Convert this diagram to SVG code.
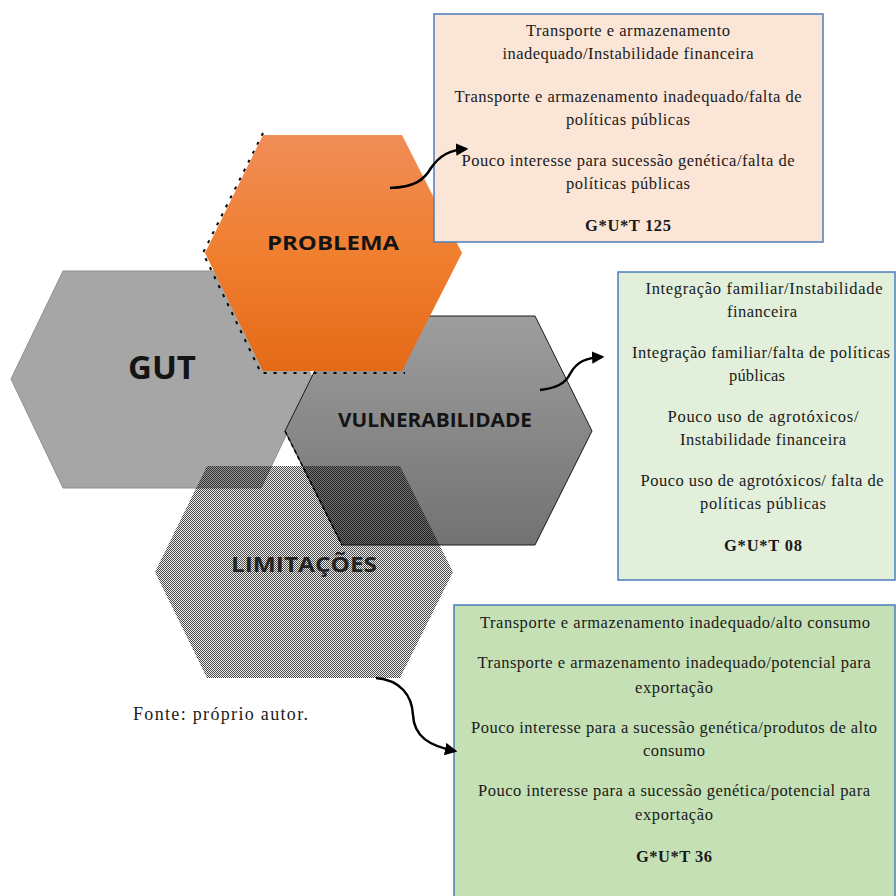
<svg xmlns="http://www.w3.org/2000/svg" width="896" height="896" viewBox="0 0 896 896">
<defs>
<linearGradient id="gOrange" x1="0" y1="0" x2="0" y2="1">
<stop offset="0" stop-color="#f08d58"/>
<stop offset="0.5" stop-color="#f07f30"/>
<stop offset="1" stop-color="#e46a17"/>
</linearGradient>
<linearGradient id="gGray" x1="0" y1="0" x2="0" y2="1">
<stop offset="0" stop-color="#9e9e9e"/>
<stop offset="1" stop-color="#727272"/>
</linearGradient>
<pattern id="checker" x="0" y="0" width="2" height="2" patternUnits="userSpaceOnUse">
<rect x="0" y="0" width="1" height="1" fill="#000" fill-opacity="0.7"/>
<rect x="1" y="1" width="1" height="1" fill="#000" fill-opacity="0.7"/>
<rect x="1" y="0" width="1" height="1" fill="#000" fill-opacity="0.08"/>
<rect x="0" y="1" width="1" height="1" fill="#000" fill-opacity="0.08"/>
</pattern>
<marker id="arr" viewBox="0 0 10 10" refX="8" refY="5" markerWidth="5" markerHeight="5" orient="auto" markerUnits="strokeWidth">
<path d="M0,0 L10,5 L0,10 Z" fill="#000"/>
</marker>
</defs>
<style>
.box{stroke:#4a7ebb;stroke-width:1.5}
.bt{font-family:"Liberation Serif","Times New Roman",serif;font-size:16.5px;fill:#1a1a1a;text-anchor:middle}
.bb{font-weight:bold}
.hl{font-family:"Open Sans","Noto Sans","DejaVu Sans",sans-serif;font-weight:bold;fill:#141414;text-anchor:middle}
.conn{fill:none;stroke:#000;stroke-width:2.5;marker-end:url(#arr)}
</style>
<rect width="896" height="896" fill="#fff"/>

<g id="gut">
<polygon points="63,271 261,271 313,379 261,488 63,488 11,379" fill="#a6a6a6" stroke="#8f8f8f" stroke-width="1"/>
<text class="hl" x="162" y="379" font-size="33">GUT</text>
</g>

<g id="vulnerabilidade">
<polygon points="342,316 535,316 592,431 535,545 342,545 285,431" fill="url(#gGray)" stroke="#1a1a1a" stroke-width="1"/>
<text class="hl" x="435" y="427" font-size="19" textLength="194" lengthAdjust="spacingAndGlyphs">VULNERABILIDADE</text>
</g>

<g id="limitacoes">
<polygon points="207,466 400,466 453,572 400,678 207,678 155,572" fill="url(#checker)"/>
<line x1="285" y1="431" x2="342" y2="545" stroke="#000" stroke-width="1.5" stroke-dasharray="4 3"/>
<text class="hl" x="304" y="572" font-size="21" textLength="146" lengthAdjust="spacingAndGlyphs" fill-opacity="0.9">LIMITAÇÕES</text>
</g>

<g id="problema">
<polyline points="263,133 203,253 261,373 405,373" fill="none" stroke="#000" stroke-width="2" stroke-dasharray="3 7"/>
<polygon points="263,135 402,135 462,253 402,371 263,371 205,253" fill="url(#gOrange)"/>
<text class="hl" x="333" y="250" font-size="20" textLength="132" lengthAdjust="spacingAndGlyphs">PROBLEMA</text>
</g>

<g id="box-problema">
<rect class="box" x="434" y="14" width="389" height="228" fill="#fbe5d6"/>
<text class="bt" x="628" y="36" textLength="204" lengthAdjust="spacing">Transporte e armazenamento</text>
<text class="bt" x="628" y="59" textLength="251" lengthAdjust="spacing">inadequado/Instabilidade financeira</text>
<text class="bt" x="628" y="102" textLength="347" lengthAdjust="spacing">Transporte e armazenamento inadequado/falta de</text>
<text class="bt" x="628" y="125" textLength="124" lengthAdjust="spacing">políticas públicas</text>
<text class="bt" x="628" y="166" textLength="333" lengthAdjust="spacing">Pouco interesse para sucessão genética/falta de</text>
<text class="bt" x="628" y="189" textLength="124" lengthAdjust="spacing">políticas públicas</text>
<text class="bt bb" x="628" y="231" textLength="86" lengthAdjust="spacing">G*U*T 125</text>
</g>

<g id="box-vulnerabilidade">
<rect class="box" x="618" y="272" width="277" height="308" fill="#e2efda"/>
<text class="bt" x="764" y="294" textLength="237" lengthAdjust="spacing">Integração familiar/Instabilidade</text>
<text class="bt" x="762" y="317" textLength="70" lengthAdjust="spacing">financeira</text>
<text class="bt" x="761" y="358" textLength="258" lengthAdjust="spacing">Integração familiar/falta de políticas</text>
<text class="bt" x="757" y="381" textLength="56" lengthAdjust="spacing">públicas</text>
<text class="bt" x="763" y="422" textLength="191" lengthAdjust="spacing">Pouco uso de agrotóxicos/</text>
<text class="bt" x="763" y="445" textLength="166" lengthAdjust="spacing">Instabilidade financeira</text>
<text class="bt" x="762" y="486" textLength="243" lengthAdjust="spacing">Pouco uso de agrotóxicos/ falta de</text>
<text class="bt" x="763" y="509" textLength="126" lengthAdjust="spacing">políticas públicas</text>
<text class="bt bb" x="763" y="551" textLength="78" lengthAdjust="spacing">G*U*T 08</text>
</g>

<g id="box-limitacoes">
<rect class="box" x="454" y="605" width="441" height="300" fill="#c5e0b4"/>
<text class="bt" x="675" y="628" textLength="390" lengthAdjust="spacing">Transporte e armazenamento inadequado/alto consumo</text>
<text class="bt" x="674" y="668" textLength="393" lengthAdjust="spacing">Transporte e armazenamento inadequado/potencial para</text>
<text class="bt" x="674" y="693" textLength="78" lengthAdjust="spacing">exportação</text>
<text class="bt" x="674" y="733" textLength="406" lengthAdjust="spacing">Pouco interesse para a sucessão genética/produtos de alto</text>
<text class="bt" x="674" y="756" textLength="62" lengthAdjust="spacing">consumo</text>
<text class="bt" x="674" y="796" textLength="392" lengthAdjust="spacing">Pouco interesse para a sucessão genética/potencial para</text>
<text class="bt" x="674" y="820" textLength="78" lengthAdjust="spacing">exportação</text>
<text class="bt bb" x="674" y="862" textLength="76" lengthAdjust="spacing">G*U*T 36</text>
</g>

<g id="fonte">
<text x="133" y="720" font-family="'Liberation Serif','Times New Roman',serif" font-size="18" fill="#1a1a1a" textLength="175" lengthAdjust="spacing">Fonte: próprio autor.</text>
</g>

<g id="connectors">
<path class="conn" d="M390,188 C415,187 424,180 431,168 C440,155 450,150 466,149"/>
<path class="conn" d="M540,390 C556,388 565,384 570,374 C577,361 586,358 602,357"/>
<path class="conn" d="M376,678 C400,680 412,695 413,715 C414,737 430,746 455,751"/>
</g>
</svg>
